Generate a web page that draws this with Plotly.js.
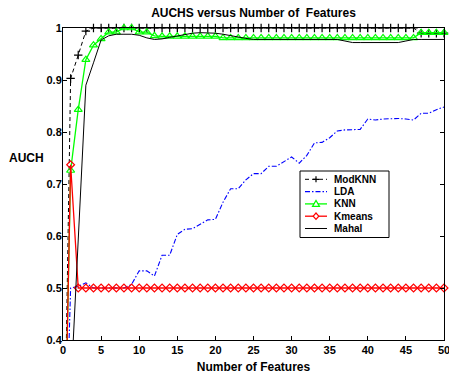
<!DOCTYPE html>
<html>
<head>
<meta charset="utf-8">
<script src="https://cdn.plot.ly/plotly-3.0.1.min.js"></script>
<style>
  html, body { margin: 0; padding: 0; background: #fff; }
  #chart { width: 449px; height: 374px; }
</style>
</head>
<body>
<div id="chart"></div>
<script>
// Number of features used by each classifier
const features = [0, 1, 2, 3, 4, 5, 6, 7, 8, 9, 10, 11, 12, 13, 14, 15, 16, 17, 18, 19, 20,
  21, 22, 23, 24, 25, 26, 27, 28, 29, 30, 31, 32, 33, 34, 35, 36, 37, 38, 39, 40,
  41, 42, 43, 44, 45, 46, 47, 48, 49, 50];

// AUCH per method
const modKNN = [0.0, 0.903, 0.948, 0.994, 1.0, 1.0, 1.0, 1.0, 1.0, 1.0, 1.0,
  1.0, 1.0, 1.0, 1.0, 1.0, 1.0, 1.0, 1.0, 1.0, 1.0,
  1.0, 1.0, 1.0, 1.0, 1.0, 1.0, 1.0, 1.0, 1.0, 1.0,
  1.0, 1.0, 1.0, 1.0, 1.0, 1.0, 1.0, 1.0, 1.0, 1.0,
  1.0, 1.0, 1.0, 1.0, 1.0, 1.0, 0.99, 0.99, 0.99, 0.99];

const lda = [0.0, 0.500, 0.503, 0.510, 0.500, 0.500, 0.500, 0.500, 0.500, 0.507, 0.533,
  0.533, 0.523, 0.563, 0.563, 0.603, 0.613, 0.614, 0.622, 0.631, 0.632,
  0.665, 0.691, 0.691, 0.708, 0.720, 0.720, 0.734, 0.734, 0.743, 0.752,
  0.740, 0.755, 0.779, 0.780, 0.789, 0.802, 0.804, 0.804, 0.805, 0.825,
  0.823, 0.825, 0.826, 0.826, 0.825, 0.823, 0.836, 0.836, 0.843, 0.848];

const knn = [0.0, 0.726, 0.843, 0.939, 0.967, 0.979, 0.992, 0.992, 1.0, 1.0, 0.992,
  0.992, 0.985, 0.984, 0.984, 0.984, 0.984, 0.984, 0.984, 0.984, 0.984,
  0.981, 0.981, 0.981, 0.981, 0.981, 0.981, 0.981, 0.981, 0.981, 0.981,
  0.981, 0.981, 0.981, 0.981, 0.981, 0.981, 0.981, 0.981, 0.981, 0.981,
  0.981, 0.981, 0.981, 0.981, 0.981, 0.981, 0.991, 0.991, 0.991, 0.991];

const kmeans = [0.0, 0.737, 0.5, 0.5, 0.5, 0.5, 0.5, 0.5, 0.5, 0.5, 0.5,
  0.5, 0.5, 0.5, 0.5, 0.5, 0.5, 0.5, 0.5, 0.5, 0.5,
  0.5, 0.5, 0.5, 0.5, 0.5, 0.5, 0.5, 0.5, 0.5, 0.5,
  0.5, 0.5, 0.5, 0.5, 0.5, 0.5, 0.5, 0.5, 0.5, 0.5,
  0.5, 0.5, 0.5, 0.5, 0.5, 0.5, 0.5, 0.5, 0.5, 0.5];

const mahal = [0.0, 0.300, 0.593, 0.890, 0.933, 0.977, 0.985, 0.988, 0.988, 0.988, 0.986,
  0.981, 0.978, 0.979, 0.982, 0.985, 0.988, 0.990, 0.991, 0.991, 0.990,
  0.988, 0.985, 0.982, 0.980, 0.978, 0.978, 0.978, 0.978, 0.978, 0.978,
  0.978, 0.978, 0.978, 0.978, 0.978, 0.978, 0.975, 0.972, 0.972, 0.972,
  0.972, 0.972, 0.972, 0.972, 0.975, 0.978, 0.978, 0.978, 0.978, 0.978];

// Axis ticks
const xTickVals = [0, 5, 10, 15, 20, 25, 30, 35, 40, 45, 50];
const yTickVals = [0.4, 0.5, 0.6, 0.7, 0.8, 0.9, 1];
const yTickText = ['0.4', '0.5', '0.6', '0.7', '0.8', '0.9', '1'];

const seriesNames = ['ModKNN', 'LDA', 'KNN', 'Kmeans', 'Mahal'];

const FONT = 'Liberation Sans, Arial, Helvetica, sans-serif';
const W = 449, H = 374;
const M = { l: 63, r: 5, t: 28, b: 34 };
const plotW = W - M.l - M.r, plotH = H - M.t - M.b;
const px2x = p => (p - M.l) / plotW;
const px2y = p => (H - M.b - p) / plotH;

const styles = {
  ModKNN: { color: '#000000', dash: '4px,3px', width: 1, marker: 'cross-thin', size: 6 },
  LDA:    { color: '#0000ff', dash: '5px,2px,1.5px,2px', width: 1.1, marker: null },
  KNN:    { color: '#00ff00', dash: 'solid', width: 1.3, marker: 'triangle-up-open', size: 7 },
  Kmeans: { color: '#ff0000', dash: 'solid', width: 1.3, marker: 'diamond-open', size: 6 },
  Mahal:  { color: '#000000', dash: 'solid', width: 1, marker: null }
};

const values = { ModKNN: modKNN, LDA: lda, KNN: knn, Kmeans: kmeans, Mahal: mahal };

const traces = seriesNames.map(name => {
  const s = styles[name];
  const t = {
    type: 'scatter',
    x: features,
    y: values[name],
    name: name,
    mode: s.marker ? 'lines+markers' : 'lines',
    line: { color: s.color, width: s.width, dash: s.dash },
    cliponaxis: false,
    showlegend: false,
    hoverinfo: 'skip'
  };
  if (s.marker) {
    t.marker = { symbol: s.marker, size: s.size, color: s.color,
                 line: { color: s.color, width: 1.2 } };
  }
  return t;
});

// Hand-built legend box: compact rows like the classic figure legend
const shapes = [];
const annotations = [];
const box = { x0: 300, x1: 389, y0: 171, y1: 237.5 };
shapes.push({ type: 'rect', xref: 'paper', yref: 'paper',
  x0: px2x(box.x0), x1: px2x(box.x1), y0: px2y(box.y1), y1: px2y(box.y0),
  line: { color: '#000', width: 1 }, fillcolor: '#fff', layer: 'above' });

const markerPaths = {
  'cross-thin': 'M-3,0H3M0,-3V3',
  'triangle-up-open': 'M-3.5,-2.5L3.5,-2.5L0,3.5Z',
  'diamond-open': 'M0,-3.2L2.8,0L0,3.2L-2.8,0Z'
};

seriesNames.forEach((name, i) => {
  const s = styles[name];
  const rowY = px2y(179.3 + 12.3 * i);
  shapes.push({ type: 'line', xref: 'paper', yref: 'paper',
    x0: px2x(305), x1: px2x(327), y0: rowY, y1: rowY,
    line: { color: s.color, width: s.width, dash: s.dash }, layer: 'above' });
  if (s.marker) {
    shapes.push({ type: 'path', xref: 'paper', yref: 'paper',
      xsizemode: 'pixel', ysizemode: 'pixel',
      xanchor: px2x(316), yanchor: rowY,
      path: markerPaths[s.marker],
      line: { color: s.color, width: 1.2 },
      fillcolor: s.marker === 'cross-thin' ? 'rgba(0,0,0,0)' : '#fff',
      layer: 'above' });
  }
  annotations.push({ xref: 'paper', yref: 'paper', x: px2x(332), y: rowY,
    xanchor: 'left', yanchor: 'middle', showarrow: false, text: name,
    font: { family: FONT, size: 10, color: '#000', weight: 'bold' } });
});

// Horizontal y-axis label
annotations.push({ xref: 'paper', yref: 'paper', x: px2x(26), y: px2y(158),
  xanchor: 'center', yanchor: 'middle', showarrow: false, text: 'AUCH',
  font: { family: FONT, size: 12, color: '#000', weight: 'bold' } });

const axisCommon = {
  showgrid: false, zeroline: false,
  showline: true, linecolor: '#000', linewidth: 1, mirror: 'allticks',
  ticks: 'inside', ticklen: 4, tickwidth: 1, tickcolor: '#000',
  ticklabeloverflow: 'allow',
  tickfont: { family: FONT, size: 11, color: '#000', weight: 'bold' },
  fixedrange: true
};

const layout = {
  width: W, height: H,
  margin: M,
  paper_bgcolor: '#fff', plot_bgcolor: '#fff',
  showlegend: false,
  title: { text: 'AUCHS versus Number of  Features', x: 0.5, xref: 'paper',
    y: 1 - 13 / H, yref: 'container', yanchor: 'middle',
    font: { family: FONT, size: 12, color: '#000', weight: 'bold' } },
  xaxis: Object.assign({}, axisCommon, {
    range: [0, 50], tickvals: xTickVals,
    title: { text: 'Number of Features', standoff: 8,
      font: { family: FONT, size: 12, color: '#000', weight: 'bold' } }
  }),
  yaxis: Object.assign({}, axisCommon, {
    range: [0.4, 1], tickvals: yTickVals, ticktext: yTickText,
    ticklabelstandoff: -2
  }),
  shapes: shapes,
  annotations: annotations
};

Plotly.newPlot('chart', traces, layout, { staticPlot: true, displayModeBar: false });
</script>
</body>
</html>
